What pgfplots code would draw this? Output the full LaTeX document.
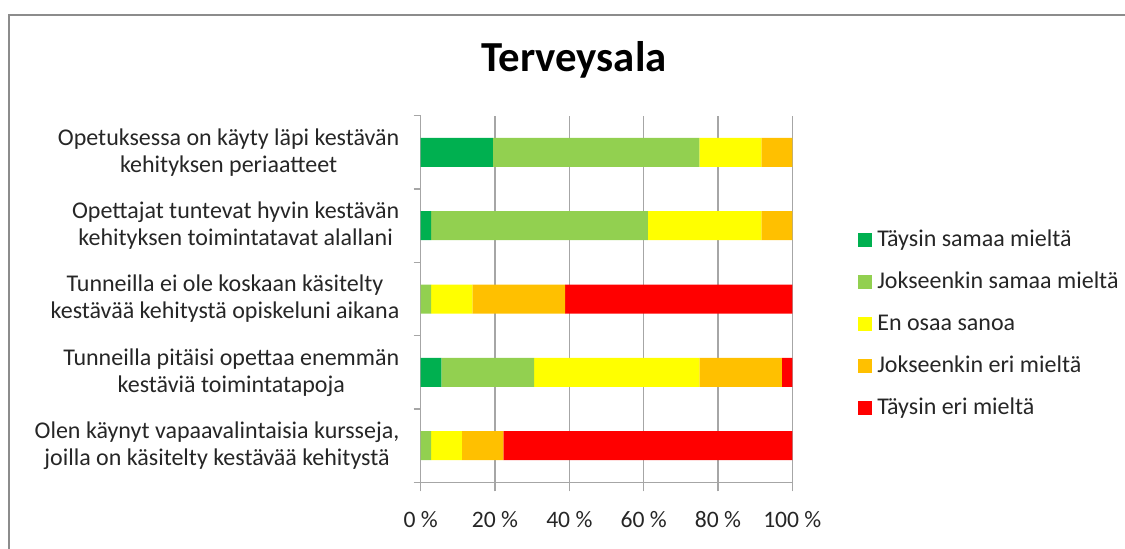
\documentclass[border=0pt]{standalone}
\usepackage{fontspec}
\setmainfont{Carlito}
\usepackage{pgfplots}
\pgfplotsset{compat=1.18}
\definecolor{cTSM}{HTML}{00B050}
\definecolor{cJSM}{HTML}{92D050}
\definecolor{cEOS}{HTML}{FFFF00}
\definecolor{cJEM}{HTML}{FFC000}
\definecolor{cTEM}{HTML}{FF0000}
\definecolor{axisgray}{HTML}{A6A6A6}
\definecolor{framegray}{HTML}{8C8C8C}
\begin{document}
\begin{tikzpicture}
\clip (0pt,0pt) rectangle (562.5pt,-274pt);
\draw[framegray, line width=1.2pt] (4.35pt,-400pt) -- (4.35pt,-7.4pt) -- (700pt,-7.4pt);
\node[font=\fontsize{21.4}{24}\selectfont\bfseries, anchor=base] at (287pt,-35.85pt) {Terveysala};
\begin{axis}[
  at={(210.35pt,-241.15pt)}, anchor=south west,
  scale only axis, width=185.8pt, height=183.3pt,
  xbar stacked, bar width=14.5pt,
  xmin=0, xmax=100, ymin=-0.5, ymax=4.5,
  axis x line=bottom, axis y line=left,
  axis line style={-, draw=axisgray, line width=0.6pt},
  xtick={0,20,40,60,80,100},
  xticklabels={0 \%,20 \%,40 \%,60 \%,80 \%,100 \%},
  xmajorgrids, grid style={axisgray, line width=0.6pt},
  tick align=outside, major tick length=4.5pt,
  x tick style={draw=axisgray, line width=0.6pt},
  xticklabel style={font=\fontsize{11.8}{13}\selectfont, text=black!85, inner sep=0pt, anchor=base, yshift=-18pt},
  ytick={0,1,2,3,4},
  yticklabels={{Olen käynyt vapaavalintaisia kursseja,\\joilla on käsitelty kestävää kehitystä},
               {Tunneilla pitäisi opettaa enemmän\\kestäviä toimintatapoja},
               {Tunneilla ei ole koskaan käsitelty\\kestävää kehitystä opiskeluni aikana},
               {Opettajat tuntevat hyvin kestävän\\kehityksen toimintatavat alallani},
               {Opetuksessa on käyty läpi kestävän\\kehityksen periaatteet}},
  y tick style={draw=none},
  yticklabel style={font=\fontsize{12}{13.5}\selectfont, text=black!85, align=center, anchor=east, inner sep=0pt, xshift=-6pt},
  extra y ticks={-0.5,0.5,1.5,2.5,3.5,4.5},
  extra y tick labels={},
  extra y tick style={major tick length=3.5pt, y tick style={draw=axisgray, line width=0.6pt}},
  legend style={at={(1.1605,0.4318)}, anchor=west, draw=none, fill=none,
    font=\fontsize{12}{13}\selectfont, text=black!85,
    row sep=10pt, nodes={inner sep=0pt, text height=8.5pt, text depth=2.5pt},
    /tikz/every odd column/.append style={column sep=2.5pt}},
  legend cell align=left,
  legend image code/.code={\fill[#1, draw=none] (0pt,-3.5pt) rectangle (7pt,3.5pt);},
]
\addplot[fill=cTSM, draw=none] coordinates {(0,0) (5.556,1) (0,2) (2.778,3) (19.444,4)};
\addplot[fill=cJSM, draw=none] coordinates {(2.778,0) (25,1) (2.778,2) (58.333,3) (55.556,4)};
\addplot[fill=cEOS, draw=none] coordinates {(8.333,0) (44.444,1) (11.111,2) (30.556,3) (16.667,4)};
\addplot[fill=cJEM, draw=none] coordinates {(11.111,0) (22.222,1) (25,2) (8.333,3) (8.333,4)};
\addplot[fill=cTEM, draw=none] coordinates {(77.778,0) (2.778,1) (61.111,2) (0,3) (0,4)};
\legend{Täysin samaa mieltä, Jokseenkin samaa mieltä, En osaa sanoa, Jokseenkin eri mieltä, Täysin eri mieltä}
\end{axis}
\end{tikzpicture}
\end{document}
